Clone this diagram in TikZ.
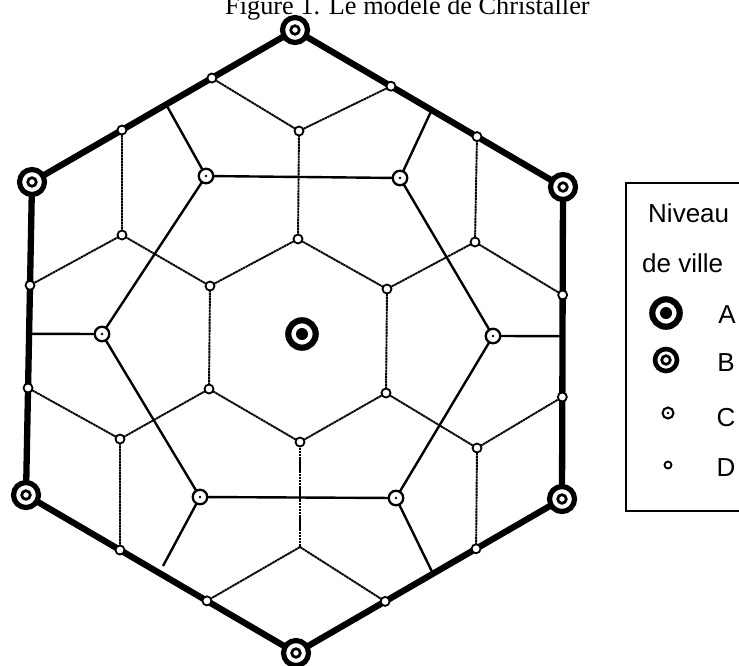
\documentclass[tikz,border=0pt]{standalone}
\usepackage{fontspec}
\setmainfont{Liberation Serif}
\newfontfamily\legendfont{Liberation Sans}
\usetikzlibrary{calc,backgrounds}
\begin{document}
\begin{tikzpicture}[x=1pt,y=-1pt,
  bnd/.style={line width=6.3pt,line join=miter},
  cline/.style={line width=2.4pt},
  dline/.style={line width=1.9pt, dash pattern=on 2.4pt off 0.5pt},
  dnode/.style={circle, draw, fill=white, line width=1.8pt, minimum size=9pt, inner sep=0pt},
  cnode/.style={circle, draw, fill=white, line width=2.3pt, minimum size=14.5pt, inner sep=0pt,
    path picture={\fill[black] (path picture bounding box.center) circle (1.4pt);}},
  bnode/.style={circle, draw, fill=white, line width=5.2pt, minimum size=25pt, inner sep=0pt,
    path picture={\draw[black,line width=2.7pt] (path picture bounding box.center) circle (4.3pt);}},
  anode/.style={circle, draw, fill=white, line width=6.2pt, minimum size=27.4pt, inner sep=0pt,
    path picture={\fill[black] (path picture bounding box.center) circle (6pt);}},
  lab/.style={font=\legendfont\fontsize{26}{30}\selectfont, inner sep=0pt}
]
\useasboundingbox (0,0) rectangle (739,665);
\clip (0,0) rectangle (739,665);

% title
\node[anchor=base west, inner sep=0pt, font=\fontsize{26.3}{30}\selectfont] (title) at (225,14) {Figure 1. Le modèle de Christaller};

% B centres (outer hexagon)
\node[bnode] (B1) at (295,30) {};
\node[bnode] (B2) at (563,187) {};
\node[bnode] (B3) at (562,499) {};
\node[bnode] (B4) at (296,653) {};
\node[bnode] (B5) at (26,495) {};
\node[bnode] (B6) at (32,182) {};

% A centre
\node[anode] (A) at (302,334) {};

% D nodes on the outer boundary
\node[dnode] (E1) at ($(B6)!0.342!(B1)$) {};
\node[dnode] (E2) at ($(B6)!0.684!(B1)$) {};
\node[dnode] (E3) at ($(B1)!0.358!(B2)$) {};
\node[dnode] (E4) at ($(B1)!0.679!(B2)$) {};
\node[dnode] (E5) at ($(B2)!0.346!(B3)$) {};
\node[dnode] (E6) at ($(B2)!0.673!(B3)$) {};
\node[dnode] (E7) at ($(B3)!0.323!(B4)$) {};
\node[dnode] (E8) at ($(B3)!0.665!(B4)$) {};
\node[dnode] (E9) at ($(B5)!0.670!(B4)$) {};
\node[dnode] (E10) at ($(B5)!0.348!(B4)$) {};
\node[dnode] (E11) at ($(B6)!0.658!(B5)$) {};
\node[dnode] (E12) at ($(B6)!0.330!(B5)$) {};

% middle ring of D nodes
\node[dnode] (M1) at (299,131) {};
\node[dnode] (M2) at (475,242) {};
\node[dnode] (M3) at (477,448) {};
\coordinate (M4) at (300,547);
\node[dnode] (M5) at (120,439) {};
\node[dnode] (M6) at (122,235) {};

% inner hexagon of D nodes
\node[dnode] (I1) at (298,239) {};
\node[dnode] (I2) at (387,289) {};
\node[dnode] (I3) at (386,393) {};
\node[dnode] (I4) at (300,442) {};
\node[dnode] (I5) at (209,389) {};
\node[dnode] (I6) at (210,286) {};

% C centres
\node[cnode] (C1) at (206,176) {};
\node[cnode] (C2) at (400,178) {};
\node[cnode] (C3) at (493,336) {};
\node[cnode] (C4) at (396,498) {};
\node[cnode] (C5) at (200,497) {};
\node[cnode] (C6) at (102,334) {};

% free ends of C lines
\coordinate (P1) at ($(B6)!0.51!(B1)$);
\coordinate (P2) at ($(B1)!0.51!(B2)$);
\coordinate (P3) at ($(B2)!0.478!(B3)$);
\coordinate (P4) at ($(B3)!0.485!(B4)$);
\coordinate (P5) at (163,566);
\coordinate (P6) at ($(B6)!0.485!(B5)$);

\begin{scope}[on background layer]
  % D network
  \draw[dline] (I1.center) -- (I2.center) -- (I3.center) -- (I4.center) -- (I5.center) -- (I6.center) -- cycle;
  \draw[dline] (I1.center) -- (M1.center);
  \draw[dline] (I2.center) -- (M2.center);
  \draw[dline] (I3.center) -- (M3.center);
  \draw[dline] (I4.center) -- (M4);
  \draw[dline] (I5.center) -- (M5.center);
  \draw[dline] (I6.center) -- (M6.center);
  \draw[dline] (E2.center) -- (M1.center) -- (E3.center);
  \draw[dline] (E4.center) -- (M2.center) -- (E5.center);
  \draw[dline] (E6.center) -- (M3.center) -- (E7.center);
  \draw[dline] (E8.center) -- (M4) -- (E9.center);
  \draw[dline] (E10.center) -- (M5.center) -- (E11.center);
  \draw[dline] (E12.center) -- (M6.center) -- (E1.center);
  % C network
  \draw[cline] (C1.center) -- (C2.center) -- (C3.center) -- (C4.center) -- (C5.center) -- (C6.center) -- cycle;
  \draw[cline] (C1.center) -- (P1);
  \draw[cline] (C2.center) -- (P2);
  \draw[cline] (C3.center) -- (P3);
  \draw[cline] (C4.center) -- (P4);
  \draw[cline] (C5.center) -- (P5);
  \draw[cline] (C6.center) -- (P6);
  % A market boundary
  \draw[bnd] (B1.center) -- (B2.center) -- (B3.center) -- (B4.center) -- (B5.center) -- (B6.center) -- cycle;
\end{scope}

% legend
\node[draw, line width=1.8pt, anchor=north west, minimum width=140pt, minimum height=328pt, inner sep=0pt] (legend) at (625,182) {};
\node[lab, anchor=base west] (niv) at (648,222) {Niveau};
\node[lab, anchor=base west] (dev) at (642,272) {de ville};
\node[anode] (LA) at (666,313) {};
\node[bnode, minimum size=22pt, line width=4.6pt] (LB) at (666,360) {};
\node[cnode, minimum size=11pt, line width=2pt] (LC) at (668,413) {};
\node[dnode, minimum size=7pt] (LD) at (668,465) {};
\node[lab] (tA) at (727,315) {A};
\node[lab] (tB) at (726,363) {B};
\node[lab] (tC) at (726,418) {C};
\node[lab] (tD) at (726,468) {D};
\end{tikzpicture}
\end{document}
